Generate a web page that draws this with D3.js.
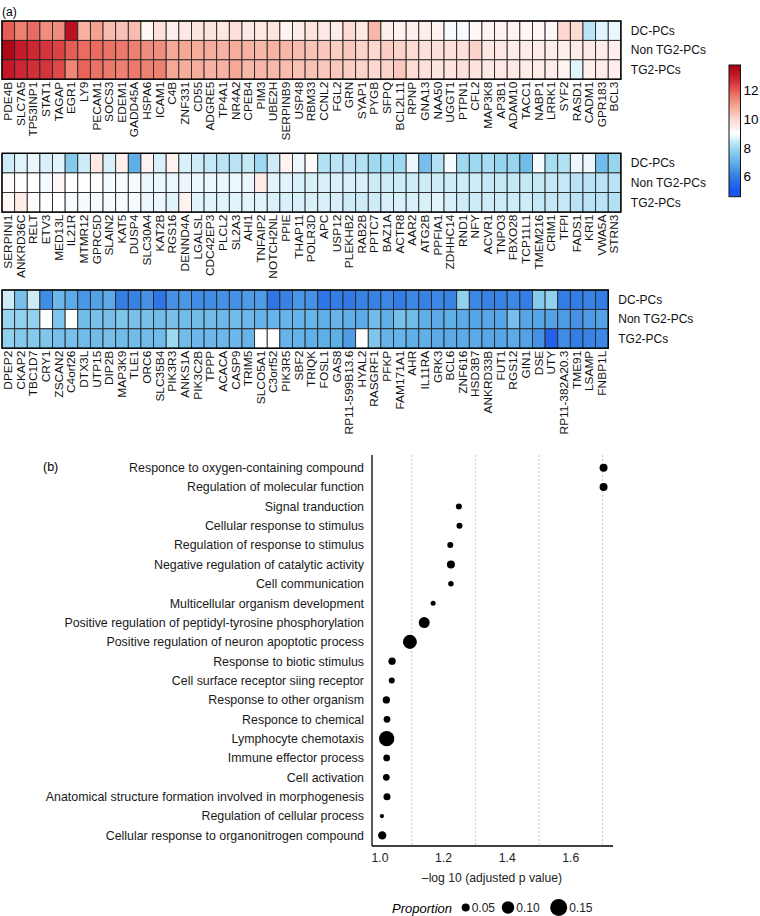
<!DOCTYPE html>
<html>
<head>
<meta charset="utf-8">
<script src="https://cdn.jsdelivr.net/npm/d3@7"></script>
<style>
  body { margin: 0; background: #fff; }
  svg text { font-family: "Liberation Sans", Arial, sans-serif; }
</style>
</head>
<body>
<div id="chart"></div>
<script>
// ---- data (a) heatmap //////////////////////////////
var groups = ["DC-PCs", "Non TG2-PCs", "TG2-PCs"];

var genes1 = ["PDE4B","SLC7A5","TP53INP1","STAT1","TAGAP","EGR1","LY9","PECAM1","SOCS3","EDEM1","GADD45A","HSPA6","ICAM1","C4B","ZNF331","CD55","ADGRE5","TP4A1","NR4A2","CPEB4","PIM3","UBE2H","SERPINB9","USP48","RBM33","CCNL2","FGL2","GRN","SYAP1","PYGB","SFPQ","BCL2L11","RPNP","GNA13","NAA50","UGGT1","PTPN1","CFL2","MAP3K8","AP3B1","ADAM10","TACC1","NABP1","LRRK1","SYF2","RASD1","CADM1","GPR183","BCL3"];
var dc1  = [12.0,11.5,11.8,11.3,11.3,13.3,10.7,11.0,10.5,10.4,10.5,9.2,9.8,9.4,9.6,9.7,9.7,9.6,9.8,9.6,9.6,9.7,9.3,9.5,9.7,9.6,9.5,9.9,9.6,10.6,9.4,9.3,9.4,9.4,9.3,8.9,8.9,9.2,9.3,9.3,9.3,9.2,9.2,9.2,10.0,9.9,8.3,8.7,8.8];
var non1 = [13.6,13.0,12.8,12.6,12.4,12.0,11.8,11.8,11.7,11.6,11.5,11.3,11.3,10.9,10.9,10.8,10.8,10.7,10.8,10.7,10.6,10.7,10.6,10.5,10.4,10.3,10.2,10.3,10.1,10.0,10.2,10.1,9.9,9.8,9.8,9.8,9.8,10.1,9.6,9.6,9.5,9.5,9.5,9.5,9.4,9.5,9.6,9.5,9.4];
var tg1  = [13.1,12.8,12.7,12.6,12.3,11.4,11.9,11.7,11.6,11.5,11.6,11.5,11.5,10.9,10.8,10.8,10.7,10.7,10.9,10.6,10.6,10.6,10.5,10.4,10.4,10.3,10.3,10.2,10.1,10.0,10.1,10.3,9.9,9.8,9.7,9.7,9.8,9.7,9.6,9.6,9.6,9.5,9.5,9.5,9.3,8.7,9.4,9.5,9.4];

var genes2 = ["SERPINI1","ANKRD36C","RELT","ETV3","MED13L","IL21R","MTMR12","GPRC5D","SLAIN2","KAT5","DUSP4","SLC30A4","KAT2B","RGS16","DENND4A","LGALSL","CDC42EP3","PLCL2","SL2A3","AHI1","TNFAIP2","NOTCH2NL","PPIE","THAP11","POLR3D","APC","USP12","PLEKHB2","RAB2B","PPTC7","BAZ1A","ACTR8","AAR2","ATG2B","PPFIA1","ZDHHC14","RND1","NFY","ACVR1","TNPO3","FBXO28","TCP11L1","TMEM216","CRIM1","TFPI","FADS1","KRI1","VWA5A","STRN3"];
var dc2  = [8.5,8.7,8.8,8.6,8.7,7.6,8.5,9.6,8.6,9.4,7.0,9.3,8.6,9.3,8.6,8.5,8.4,8.3,8.3,8.4,8.0,8.5,9.3,8.8,9.1,8.2,8.3,8.3,8.2,8.0,8.1,8.0,8.8,7.4,8.2,8.9,8.0,8.0,8.1,7.9,7.9,7.3,8.9,8.1,8.2,8.8,8.8,7.3,7.9];
var non2 = [9.1,9.0,9.0,8.9,9.2,9.0,9.0,9.0,8.9,8.9,8.9,8.8,8.8,8.8,8.8,8.8,8.8,8.8,8.8,8.8,9.5,8.7,8.7,8.6,8.6,8.6,8.6,8.6,8.6,8.5,8.5,8.5,8.5,8.5,8.5,8.5,8.5,8.5,8.4,8.4,8.4,8.4,8.4,8.4,8.4,8.3,8.3,8.3,8.3];
var tg2  = [9.2,9.5,9.1,9.0,9.0,8.9,8.9,8.9,8.9,8.9,8.9,8.8,8.8,8.7,9.3,8.7,8.7,8.7,8.7,8.7,8.7,8.6,8.6,8.6,8.6,8.6,8.6,8.5,8.5,8.5,8.6,8.6,8.6,8.6,8.7,8.6,8.5,8.5,8.5,8.5,8.5,8.5,8.4,8.4,8.4,8.3,8.3,8.3,8.2];

var genes3 = ["DPEP2","CKAP2","TBC1D7","CRY1","ZSCAN2","C4orf26","DTX3L","UTP15","DIP2B","MAP3K9","TLE1","ORC6","SLC35B4","PIK3R3","ANKS1A","PIK3C2B","TPPP","ACACA","CASP9","TRIM5","SLCO5A1","C3orf52","PIK3R5","SBF2","TRIQK","FOSL1","GAS8","RP11-599B13.6","HYAL2","RASGRF1","PFKP","FAM171A1","AHR","IL11RA","GRK3","BCL6","ZNF616","HSD3B7","ANKRD33B","FUT1","RGS12","GIN1","DSE","UTY","RP11-382A20.3","TME91","LSAMP","FNBP1L"];
var dc3  = [8.5,7.4,8.5,6.3,7.2,6.9,6.5,6.7,6.9,6.0,6.1,6.4,5.8,6.4,6.5,6.3,6.3,6.4,6.4,6.6,6.6,5.8,6.1,6.5,6.4,5.8,6.0,5.9,6.1,6.1,6.2,6.0,6.2,6.1,6.2,6.1,7.8,6.2,6.1,6.1,6.2,6.0,7.6,7.8,6.0,6.0,6.1,6.0];
var non3 = [7.9,7.8,7.8,null,7.5,null,7.3,7.4,7.4,7.5,7.4,7.4,7.3,7.4,7.3,7.3,7.3,7.2,7.3,7.2,7.1,7.1,7.1,7.1,7.1,7.0,7.1,7.0,6.9,7.3,7.0,7.4,7.3,7.0,6.9,7.0,6.9,6.8,6.8,6.8,7.4,6.8,6.8,6.7,6.6,6.4,6.6,6.7];
var tg3  = [7.8,7.6,7.6,7.5,7.4,7.4,7.3,7.3,7.4,7.3,7.3,7.3,7.3,8.0,7.3,7.2,7.2,7.2,7.2,7.1,null,null,7.1,7.1,7.0,7.0,7.0,6.6,null,7.5,7.1,7.1,7.0,7.0,6.9,6.9,6.9,6.9,6.8,6.8,6.9,6.7,6.4,5.3,6.3,6.0,6.1,6.2];

var colorTicks = [6, 8, 10, 12];

// ---- data (b) GO dot plot //////////////////////////////
var terms = ["Responce to oxygen-containing compound","Regulation of molecular function","Signal tranduction","Cellular response to stimulus","Regulation of response to stimulus","Negative regulation of catalytic activity","Cell communication","Multicellular organism development","Positive regulation of peptidyl-tyrosine phosphorylation","Positive regulation of neuron apoptotic process","Response to biotic stimulus","Cell surface receptor siing receptor","Response to other organism","Responce to chemical","Lymphocyte chemotaxis","Immune effector process","Cell activation","Anatomical structure formation involved in morphogenesis","Regulation of cellular process","Cellular response to organonitrogen compound"];
var logP = [1.703,1.703,1.248,1.25,1.221,1.223,1.223,1.167,1.139,1.094,1.038,1.037,1.02,1.022,1.021,1.021,1.02,1.022,1.006,1.007];
var proportion = [0.05,0.05,0.028,0.028,0.028,0.05,0.022,0.017,0.083,0.117,0.042,0.028,0.042,0.036,0.131,0.036,0.036,0.039,0.009,0.053];
var xTicks = [1.0, 1.2, 1.4, 1.6];
var gridTicks = [1.1, 1.3, 1.5, 1.7];
var sizeLegend = [0.05, 0.10, 0.15];

// ---- setup ////////////////////////////////////////
var svg = d3.select("#chart").append("svg")
    .attr("width", 760).attr("height", 916);

var color = d3.scaleLinear()
    .domain([5, 6, 7, 8, 9, 10, 11, 12, 13, 13.8])
    .range(["#1c55ee", "#347de4", "#60b0e8", "#9dd9f0", "#ffffff", "#fcd8d0", "#f5a28f", "#e65d55", "#c81a2a", "#a50012"])
    .clamp(true);

svg.append("text").attr("x", 2).attr("y", 16).style("font-size", "12px").text("(a)");

var cellW = 12.63;
var blocks = [
  { genes: genes1, rows: [dc1, non1, tg1], top: 21, h: 19.4 },
  { genes: genes2, rows: [dc2, non2, tg2], top: 153.3, h: 19.6 },
  { genes: genes3, rows: [dc3, non3, tg3], top: 290, h: 19.4 }
];

blocks.forEach(function(b) {
  var x = d3.scaleBand().domain(b.genes).range([2, 2 + b.genes.length * cellW]);
  var y = d3.scaleBand().domain(groups).range([b.top, b.top + 3 * b.h]);
  var g = svg.append("g");

  var cells = [];
  b.rows.forEach(function(vals, r) {
    vals.forEach(function(v, i) {
      cells.push({ gene: b.genes[i], group: groups[r], v: v });
    });
  });

  g.selectAll("rect.cell").data(cells).enter().append("rect")
    .attr("class", "cell")
    .attr("x", function(d) { return x(d.gene); })
    .attr("y", function(d) { return y(d.group); })
    .attr("width", x.bandwidth())
    .attr("height", y.bandwidth())
    .attr("fill", function(d) { return d.v == null ? "#ffffff" : color(d.v); })
    .attr("stroke", "#262626")
    .attr("stroke-width", 0.9);

  // outer frame
  g.append("rect")
    .attr("x", x.range()[0]).attr("y", y.range()[0])
    .attr("width", x.range()[1] - x.range()[0])
    .attr("height", y.range()[1] - y.range()[0])
    .attr("fill", "none").attr("stroke", "#000").attr("stroke-width", 1.4);

  // gene labels (slightly condensed like the original)
  var bottom = y.range()[1];
  g.selectAll("text.gene").data(b.genes).enter().append("text")
    .attr("class", "gene")
    .attr("transform", function(d) {
      return "translate(" + (x(d) + x.bandwidth() / 2) + "," + (bottom + 2.5) + ") rotate(-90) scale(1,0.9)";
    })
    .attr("dy", "0.36em")
    .style("text-anchor", "end")
    .style("font-size", "11.9px")
    .style("fill", "#111")
    .text(function(d) { return d; });

  // group labels
  g.selectAll("text.grp").data(groups).enter().append("text")
    .attr("class", "grp")
    .attr("x", x.range()[1] + 10)
    .attr("y", function(d) { return y(d) + y.bandwidth() / 2; })
    .attr("dy", "0.35em")
    .style("font-size", "12px")
    .style("fill", "#111")
    .text(function(d) { return d; });
});

// colour bar
var cbY = d3.scaleLinear().domain([4.6, 13.8]).range([196.7, 65]);
var grad = svg.append("defs").append("linearGradient")
    .attr("id", "cbar").attr("x1", 0).attr("y1", 1).attr("x2", 0).attr("y2", 0);
d3.range(4.6, 13.81, 0.2).forEach(function(v) {
  grad.append("stop")
    .attr("offset", (v - 4.6) / (13.8 - 4.6))
    .attr("stop-color", color(v));
});
svg.append("rect")
  .attr("x", 729).attr("y", cbY(13.8))
  .attr("width", 11.5).attr("height", cbY(4.6) - cbY(13.8))
  .attr("fill", "url(#cbar)").attr("stroke", "#111").attr("stroke-width", 1);
svg.selectAll("text.cb").data(colorTicks).enter().append("text")
  .attr("x", 743.5)
  .attr("y", function(d) { return cbY(d); })
  .attr("dy", "0.35em")
  .style("font-size", "13.5px")
  .text(function(d) { return d; });

// ---- (b) dot plot ///////////////////////////////////
svg.append("text").attr("x", 43).attr("y", 471).style("font-size", "12.5px").text("(b)");

var xs = d3.scaleLinear().domain([1.0, 1.7]).range([380, 602.6]);
var ys = d3.scalePoint().domain(terms).range([467.7, 835.4]);
var rs = d3.scaleLinear().domain([0.05, 0.15]).range([4, 8.5]);

var axisLeft = 372, axisRight = 613, axisTop = 455, axisBottom = 846;

svg.selectAll("line.grid").data(gridTicks).enter().append("line")
  .attr("x1", function(d) { return xs(d); })
  .attr("x2", function(d) { return xs(d); })
  .attr("y1", axisTop).attr("y2", axisBottom)
  .attr("stroke", "#c8c8c8").attr("stroke-width", 1)
  .attr("stroke-dasharray", "2,2");

svg.append("line").attr("x1", axisLeft).attr("x2", axisLeft)
  .attr("y1", axisTop).attr("y2", axisBottom)
  .attr("stroke", "#000").attr("stroke-width", 1.3);
svg.append("line").attr("x1", axisLeft).attr("x2", axisRight)
  .attr("y1", axisBottom).attr("y2", axisBottom)
  .attr("stroke", "#000").attr("stroke-width", 1.3);

svg.selectAll("text.term").data(terms).enter().append("text")
  .attr("x", 364)
  .attr("y", function(d) { return ys(d); })
  .attr("dy", "0.35em")
  .style("text-anchor", "end")
  .style("font-size", "12.4px")
  .style("fill", "#1a1a1a")
  .text(function(d) { return d; });

svg.selectAll("circle.dot").data(terms).enter().append("circle")
  .attr("cx", function(d, i) { return xs(logP[i]); })
  .attr("cy", function(d) { return ys(d); })
  .attr("r", function(d, i) { return rs(proportion[i]); })
  .attr("fill", "#000");

svg.selectAll("text.xt").data(xTicks).enter().append("text")
  .attr("x", function(d) { return xs(d); })
  .attr("y", 858)
  .attr("dy", "0.35em")
  .style("text-anchor", "middle")
  .style("font-size", "12.2px")
  .style("fill", "#222")
  .text(function(d) { return d.toFixed(1); });

svg.append("text")
  .attr("x", 492).attr("y", 878).attr("dy", "0.35em")
  .style("text-anchor", "middle").style("font-size", "12.2px").style("fill", "#222")
  .text("\u2013log 10 (adjusted p value)");

// size legend
svg.append("text")
  .attr("x", 452).attr("y", 908).attr("dy", "0.35em")
  .style("text-anchor", "end").style("font-size", "13px").style("font-style", "italic")
  .text("Proportion");
var legX = [465.7, 508, 558.7];
svg.selectAll("circle.leg").data(sizeLegend).enter().append("circle")
  .attr("cx", function(d, i) { return legX[i]; })
  .attr("cy", 907.5)
  .attr("r", function(d) { return rs(d); })
  .attr("fill", "#000");
svg.selectAll("text.leg").data(sizeLegend).enter().append("text")
  .attr("x", function(d, i) { return legX[i] + rs(d) + 2; })
  .attr("y", 908).attr("dy", "0.35em")
  .style("font-size", "12px").style("fill", "#222")
  .text(function(d) { return d.toFixed(2); });
</script>
</body>
</html>
